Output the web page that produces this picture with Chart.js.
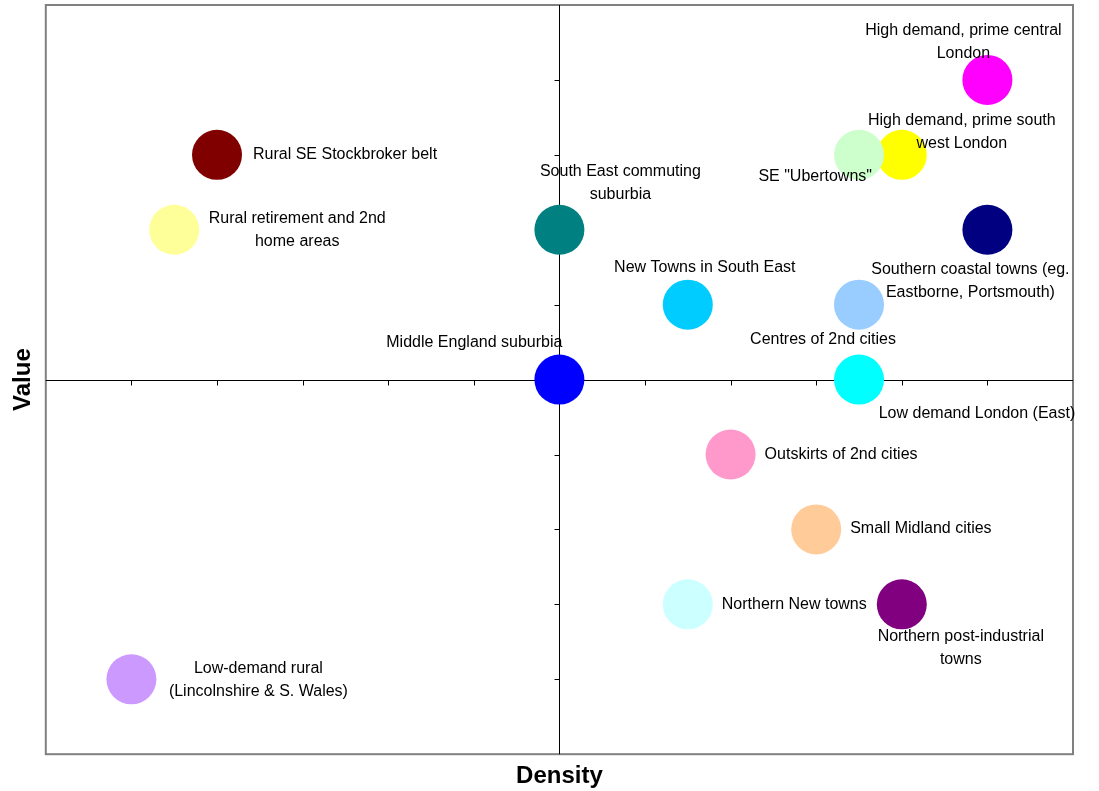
<!DOCTYPE html>
<html>
<head>
<meta charset="utf-8">
<script src="https://cdn.jsdelivr.net/npm/chart.js@4/dist/chart.umd.min.js"></script>
<style>
  html, body { margin: 0; padding: 0; background: #fff; }
  #wrap { width: 1099px; height: 791px; }
</style>
</head>
<body>
<div id="wrap"><canvas id="segment-chart"></canvas></div>
<script>
// segment names (multi-line labels as arrays)
const segments = [
    ['High demand, prime central', 'London'],
    ['High demand, prime south', 'west London'],
    ['SE "Ubertowns"'],
    ['Rural SE Stockbroker belt'],
    ['Rural retirement and 2nd', 'home areas'],
    ['South East commuting', 'suburbia'],
    ['Southern coastal towns (eg.', 'Eastborne, Portsmouth)'],
    ['New Towns in South East'],
    ['Centres of 2nd cities'],
    ['Middle England suburbia'],
    ['Low demand London (East)'],
    ['Outskirts of 2nd cities'],
    ['Small Midland cities'],
    ['Northern New towns'],
    ['Northern post-industrial', 'towns'],
    ['Low-demand rural', '(Lincolnshire & S. Wales)'],
];
const density = [5, 4, 3.5, -4, -4.5, 0, 5, 1.5, 3.5, 0, 3.5, 2, 3, 1.5, 4, -5];
const value   = [4, 3, 3, 3, 2, 2, 2, 1, 1, 0, 0, -1, -2, -3, -3, -4];
const colours = [
    '#FF00FF', '#FFFF00', '#CCFFCC', '#800000', '#FFFF99', '#008080',
    '#000080', '#00CCFF', '#99CCFF', '#0000FF', '#00FFFF', '#FF99CC',
    '#FFCC99', '#CCFFFF', '#800080', '#CC99FF',
];

// where each label sits relative to its bubble (px offset of first line, alignment)
const labelPlacement = [
    { dx: -24, dy: -49, align: 'center' },
    { dx: 60, dy: -34, align: 'center' },
    { dx: 13, dy: 22, align: 'right' },
    { dx: 36, dy: 0, align: 'left' },
    { dx: 123, dy: -11, align: 'center' },
    { dx: 61, dy: -58, align: 'center' },
    { dx: -17, dy: 40, align: 'center' },
    { dx: 17, dy: -37, align: 'center' },
    { dx: -36, dy: 35, align: 'center' },
    { dx: 3, dy: -37, align: 'right' },
    { dx: 118, dy: 34, align: 'center' },
    { dx: 34, dy: 0, align: 'left' },
    { dx: 34, dy: -1, align: 'left' },
    { dx: 34, dy: 0, align: 'left' },
    { dx: 59, dy: 32, align: 'center' },
    { dx: 127, dy: -11, align: 'center' },
];

const points = density.map((d, i) => ({ x: d, y: value[i] }));

// frame + axes crossing at the origin
const quadrantAxes = {
    id: 'quadrantAxes',
    beforeDatasetsDraw(chart) {
        const { ctx, chartArea: a, scales: { x, y } } = chart;
        const x0 = Math.round(x.getPixelForValue(0)) + 0.5;
        const y0 = Math.round(y.getPixelForValue(0)) + 0.5;
        ctx.save();
        ctx.strokeStyle = '#808080';
        ctx.lineWidth = 2;
        ctx.strokeRect(a.left, a.top, a.right - a.left, a.bottom - a.top);

        ctx.strokeStyle = '#000';
        ctx.lineWidth = 1;
        ctx.beginPath();
        ctx.moveTo(a.left, y0);
        ctx.lineTo(a.right, y0);
        ctx.moveTo(x0, a.top);
        ctx.lineTo(x0, a.bottom);
        x.ticks.forEach((t) => {
            if (t.value <= x.min || t.value >= x.max || t.value === 0) return;
            const px = Math.round(x.getPixelForValue(t.value)) + 0.5;
            ctx.moveTo(px, y0);
            ctx.lineTo(px, y0 + 5);
        });
        y.ticks.forEach((t) => {
            if (t.value <= y.min || t.value >= y.max || t.value === 0) return;
            const py = Math.round(y.getPixelForValue(t.value)) + 0.5;
            ctx.moveTo(x0 - 5, py);
            ctx.lineTo(x0, py);
        });
        ctx.stroke();
        ctx.restore();
    },
};

const bubbleLabels = {
    id: 'bubbleLabels',
    afterDatasetsDraw(chart) {
        const { ctx } = chart;
        const meta = chart.getDatasetMeta(0);
        ctx.save();
        ctx.font = '16px "Liberation Sans", Arial, sans-serif';
        ctx.fillStyle = '#000';
        ctx.textBaseline = 'middle';
        meta.data.forEach((pt, i) => {
            const p = labelPlacement[i];
            ctx.textAlign = p.align;
            segments[i].forEach((line, j) => {
                ctx.fillText(line, pt.x + p.dx, pt.y + p.dy + j * 23);
            });
        });
        ctx.restore();
    },
};

new Chart(document.getElementById('segment-chart').getContext('2d'), {
    type: 'scatter',
    data: {
        datasets: [
            {
                label: 'Segments',
                data: points,
                pointRadius: 25,
                pointHoverRadius: 25,
                pointBackgroundColor: colours,
                pointBorderWidth: 0,
                borderWidth: 0,
            },
        ],
    },
    options: {
        responsive: true,
        maintainAspectRatio: false,
        animation: false,
        layout: { autoPadding: false, padding: { top: 5, right: 26, bottom: 0, left: 0 } },
        plugins: {
            legend: { display: false },
            tooltip: { enabled: false },
        },
        scales: {
            x: {
                min: -6,
                max: 6,
                ticks: { display: false, stepSize: 1 },
                grid: { display: false, drawTicks: false },
                border: { display: false },
                title: {
                    display: true,
                    text: 'Density',
                    color: '#000',
                    font: { family: '"Liberation Sans", Arial, sans-serif', size: 24, weight: 'bold' },
                    padding: { top: 8, bottom: 0 },
                },
            },
            y: {
                min: -5,
                max: 5,
                ticks: { display: false, stepSize: 1 },
                grid: { display: false, drawTicks: false },
                border: { display: false },
                title: {
                    display: true,
                    text: 'Value',
                    color: '#000',
                    font: { family: '"Liberation Sans", Arial, sans-serif', size: 24, weight: 'bold' },
                    padding: { top: 9, bottom: 8 },
                },
            },
        },
    },
    plugins: [quadrantAxes, bubbleLabels],
});
</script>
</body>
</html>
